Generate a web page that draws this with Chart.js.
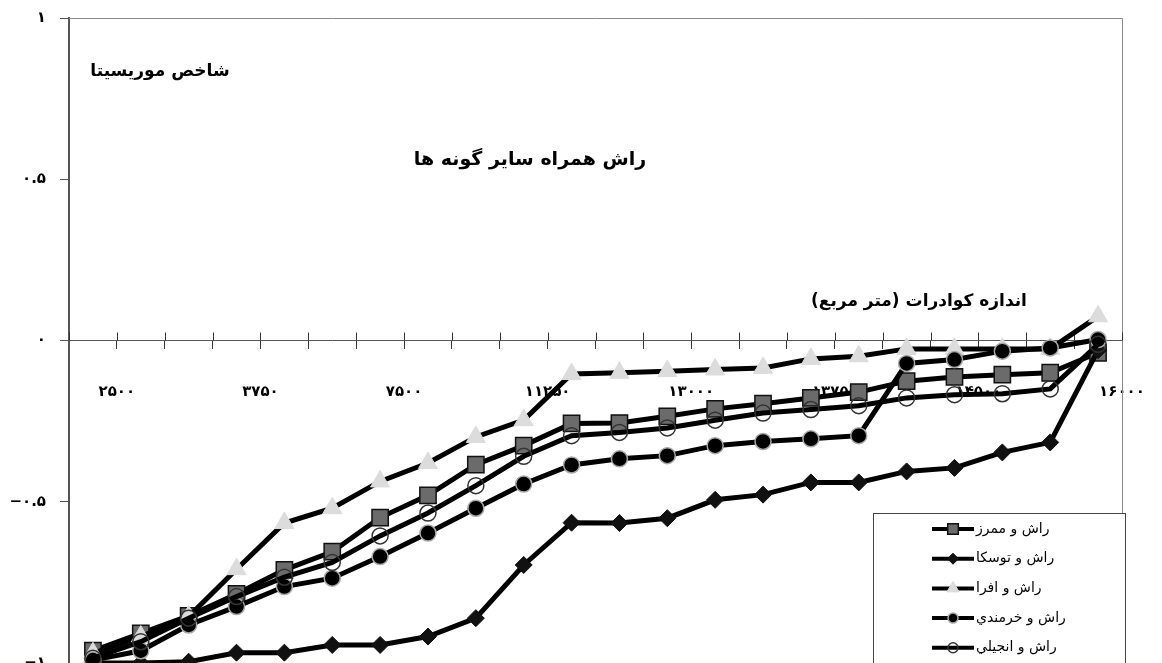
<!DOCTYPE html>
<html>
<head>
<meta charset="utf-8">
<script src="https://cdn.jsdelivr.net/npm/chart.js@4.4.1/dist/chart.umd.min.js"></script>
<style>
  html, body { margin: 0; padding: 0; background: #fff; }
  #wrap { width: 1162px; height: 663px; position: relative; }
</style>
</head>
<body>
<div id="wrap"><canvas id="grafico-morisita"></canvas></div>
<script>
// Passos de tamanho do quadrado (22 categorias)
var categorias = ["1", "2", "3", "4", "5", "6", "7", "8", "9", "10", "11",
  "12", "13", "14", "15", "16", "17", "18", "19", "20", "21", "22"];

// Rótulos do eixo x, nas divisões entre categorias (23 divisões)
var rotulosEixoX = ["", "۲۵۰۰", "", "", "۳۷۵۰", "", "", "۷۵۰۰", "", "", "۱۱۲۵۰", "",
  "", "۱۳۰۰۰", "", "", "۱۳۷۵۰", "", "", "۱۴۵۰۰", "", "", "۱۶۰۰۰"];

// Índice de Morisita por par de espécies
var dadosMomorz = [-0.962, -0.908, -0.854, -0.786, -0.711, -0.655, -0.549, -0.480, -0.385, -0.326, -0.257,
  -0.256, -0.235, -0.212, -0.196, -0.178, -0.160, -0.126, -0.113, -0.106, -0.100, -0.038];
var dadosToska = [-1.0, -1.0, -0.996, -0.968, -0.968, -0.944, -0.944, -0.918, -0.861, -0.696, -0.565,
  -0.566, -0.551, -0.494, -0.478, -0.440, -0.440, -0.406, -0.395, -0.347, -0.316, -0.030];
var dadosAfra = [-0.970, -0.918, -0.856, -0.709, -0.566, -0.520, -0.437, -0.380, -0.299, -0.247, -0.104,
  -0.100, -0.095, -0.090, -0.085, -0.057, -0.049, -0.026, -0.026, -0.026, -0.026, 0.075];
var dadosKhormandi = [-0.991, -0.962, -0.882, -0.825, -0.763, -0.737, -0.670, -0.597, -0.520, -0.445, -0.386,
  -0.367, -0.357, -0.326, -0.313, -0.305, -0.295, -0.071, -0.059, -0.033, -0.023, 0.003];
var dadosAnjili = [-0.985, -0.934, -0.861, -0.794, -0.734, -0.688, -0.606, -0.535, -0.450, -0.359, -0.295,
  -0.285, -0.271, -0.247, -0.225, -0.214, -0.202, -0.178, -0.168, -0.165, -0.150, -0.012];

var fonte = "'DejaVu Sans', sans-serif";

function paraPersa(v) {
  var d = "۰۱۲۳۴۵۶۷۸۹";
  return String(v).replace(/-/g, "−").replace(/[0-9]/g, function (c) { return d[+c]; });
}

// Moldura, marcas cruzadas no eixo zero, textos e legenda
var pluginExtras = {
  id: "extras",
  beforeDatasetsDraw: function (chart) {
    var ctx = chart.ctx;
    var a = chart.chartArea;
    var xl = chart.scales.xl;
    var y0 = chart.scales.y.getPixelForValue(0);
    ctx.save();
    ctx.strokeStyle = "#8a8a8a";
    ctx.lineWidth = 1;
    ctx.beginPath();
    ctx.moveTo(a.left, a.top + 0.5);
    ctx.lineTo(a.right + 0.5, a.top + 0.5);
    ctx.lineTo(a.right + 0.5, a.bottom);
    ctx.stroke();
    ctx.strokeStyle = "#333";
    ctx.beginPath();
    xl.ticks.forEach(function (t) {
      var px = Math.round(xl.getPixelForValue(t.value)) + 0.5;
      ctx.moveTo(px, y0 - 8);
      ctx.lineTo(px, y0);
    });
    ctx.stroke();
    ctx.restore();
  },
  afterDraw: function (chart) {
    var ctx = chart.ctx;
    ctx.save();
    ctx.direction = "rtl";
    ctx.fillStyle = "#000";
    ctx.textBaseline = "middle";
    ctx.textAlign = "center";
    ctx.font = "bold 17px " + fonte;
    ctx.fillText("شاخص موریسیتا", 160, 72);
    ctx.font = "bold 19px " + fonte;
    ctx.fillText("راش همراه سایر گونه ها", 530, 160);
    ctx.font = "bold 17px " + fonte;
    ctx.fillText("اندازه کوادرات (متر مربع)", 919, 302);

    // legenda
    ctx.fillStyle = "#fff";
    ctx.fillRect(873, 513, 252, 160);
    ctx.strokeStyle = "#444";
    ctx.lineWidth = 1;
    ctx.strokeRect(873.5, 513.5, 252, 160);
    var raios = [7.5, 5.5, 7, 5, 5];
    chart.data.datasets.forEach(function (ds, i) {
      var yy = 529 + i * 29.7;
      ctx.strokeStyle = "#000";
      ctx.lineWidth = 4;
      ctx.beginPath();
      ctx.moveTo(932, yy);
      ctx.lineTo(974, yy);
      ctx.stroke();
      ctx.fillStyle = ds.pointBackgroundColor;
      ctx.strokeStyle = ds.pointBorderColor;
      ctx.lineWidth = ds.pointBorderWidth;
      Chart.helpers.drawPoint(ctx, {
        pointStyle: ds.pointStyle, rotation: 0, radius: raios[i], borderWidth: ds.pointBorderWidth
      }, 953, yy);
      ctx.fillStyle = "#000";
      ctx.textAlign = "left";
      ctx.font = "14px " + fonte;
      ctx.fillText(ds.label, 976, yy);
    });
    ctx.restore();
  }
};

var graficoMorisita = document.getElementById("grafico-morisita").getContext("2d");

new Chart(graficoMorisita, {
  type: "line",
  data: {
    labels: categorias,
    datasets: [
      {
        label: "راش و ممرز",
        data: dadosMomorz,
        borderColor: "#000",
        borderWidth: 5,
        pointStyle: "rect",
        pointRadius: 11.5,
        pointBackgroundColor: "#6b6b6b",
        pointBorderColor: "#111",
        pointBorderWidth: 1.5,
        order: 5,
      },
      {
        label: "راش و توسکا",
        data: dadosToska,
        borderColor: "#000",
        borderWidth: 5,
        pointStyle: "rectRot",
        pointRadius: 8.5,
        pointBackgroundColor: "#111",
        pointBorderColor: "#111",
        pointBorderWidth: 1,
        order: 4,
      },
      {
        label: "راش و افرا",
        data: dadosAfra,
        borderColor: "#000",
        borderWidth: 5,
        pointStyle: "triangle",
        pointRadius: 11,
        pointBackgroundColor: "#dcdcdc",
        pointBorderColor: "#dcdcdc",
        pointBorderWidth: 1,
        order: 3,
      },
      {
        label: "راش و خرمندي",
        data: dadosKhormandi,
        borderColor: "#000",
        borderWidth: 5,
        pointStyle: "circle",
        pointRadius: 8,
        pointBackgroundColor: "#000",
        pointBorderColor: "#a8a8a8",
        pointBorderWidth: 1.5,
        order: 2,
      },
      {
        label: "راش و انجيلي",
        data: dadosAnjili,
        borderColor: "#000",
        borderWidth: 5,
        pointStyle: "circle",
        pointRadius: 8,
        pointBackgroundColor: "rgba(0,0,0,0)",
        pointBorderColor: "#333",
        pointBorderWidth: 1.5,
        order: 1,
      },
    ],
  },
  options: {
    responsive: true,
    maintainAspectRatio: false,
    animation: false,
    layout: { autoPadding: false, padding: { top: 18, right: 40, bottom: 0, left: 0 } },
    elements: { line: { tension: 0 } },
    plugins: {
      legend: { display: false },
      title: { display: false },
      tooltip: { enabled: false },
    },
    scales: {
      x: {
        type: "category",
        display: false,
        offset: true,
      },
      xl: {
        type: "linear",
        position: { y: 0 },
        min: 0,
        max: categorias.length,
        afterBuildTicks: function (s) {
          s.ticks = rotulosEixoX.map(function (r, i) { return { value: i }; });
        },
        afterFit: function (s) {
          s.paddingLeft = 0;
          s.paddingRight = 0;
        },
        ticks: {
          autoSkip: false,
          maxRotation: 0,
          padding: 35,
          color: "#000",
          font: { family: fonte, size: 15, weight: "bold" },
          callback: function (v) { return rotulosEixoX[v]; },
        },
        grid: { drawOnChartArea: false, tickLength: 8, color: "#333" },
        border: { color: "#555", width: 1 },
      },
      y: {
        min: -1,
        max: 1,
        afterFit: function (s) {
          s.width = 69;
          s.paddingTop = 0;
          s.paddingBottom = 0;
        },
        ticks: {
          stepSize: 0.5,
          padding: 14,
          color: "#000",
          font: { family: fonte, size: 15, weight: "bold" },
          callback: function (v) { return paraPersa(v); },
        },
        grid: { drawOnChartArea: false, tickLength: 9, color: "#555" },
        border: { color: "#555", width: 2 },
      },
    },
  },
  plugins: [pluginExtras],
});
</script>
</body>
</html>
